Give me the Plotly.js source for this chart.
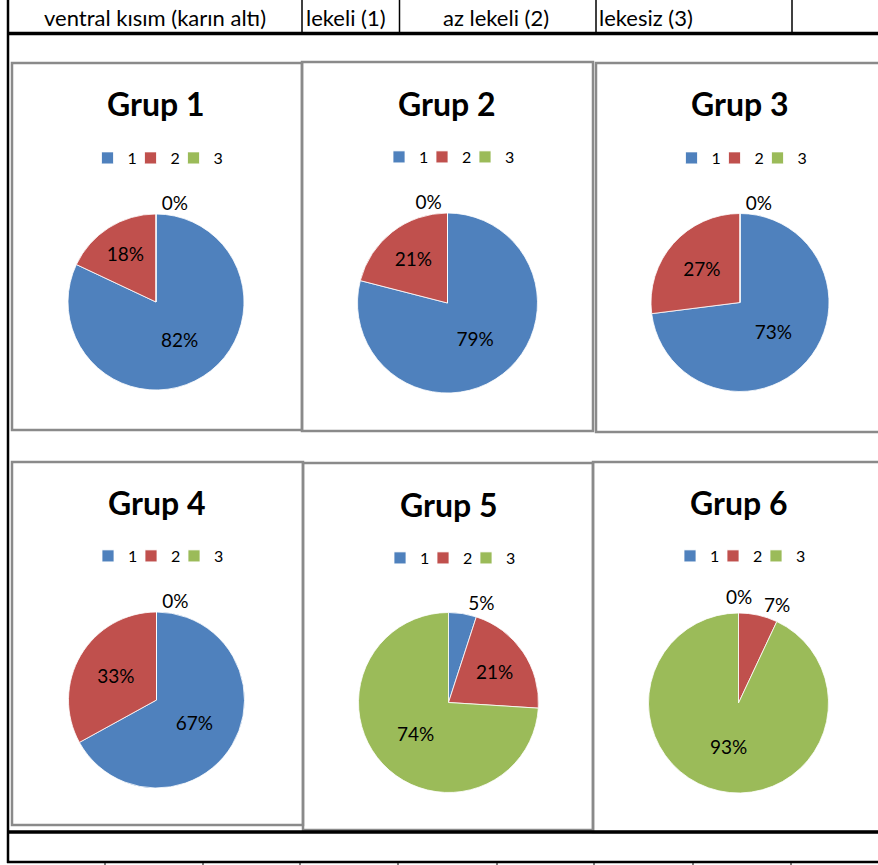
<!DOCTYPE html>
<html>
<head>
<meta charset="utf-8">
<script src="https://cdn.plot.ly/plotly-3.0.1.min.js"></script>
<style>
  html, body { margin: 0; padding: 0; background: #ffffff; }
  #chart { width: 878px; height: 865px; }
</style>
</head>
<body>
<div id="chart"></div>
<script>
// ---- data ----
const categories = ['1', '2', '3'];
const groupNames = ['Grup 1', 'Grup 2', 'Grup 3', 'Grup 4', 'Grup 5', 'Grup 6'];
const grup1 = [82, 18, 0];
const grup2 = [79, 21, 0];
const grup3 = [73, 27, 0];
const grup4 = [67, 33, 0];
const grup5 = [5, 21, 74];
const grup6 = [0, 7, 93];
const headerLabels = ['ventral kısım (karın altı)', 'lekeli (1)', 'az lekeli (2)', 'lekesiz (3)'];

// ---- styling / placement ----
const W = 878, H = 865;
const FONT = 'Lato, Carlito, "Open Sans", sans-serif';
const sliceColors = ['#4F81BD', '#C0504D', '#9BBB59'];
const series = [grup1, grup2, grup3, grup4, grup5, grup6];

// pie centre / radius, title and legend rows, frame of each chart object (px)
const panels = [
  { cx: 156,   cy: 302,   r: 88, titleY: 104, legendY: 158, box: [12, 63, 302, 430] },
  { cx: 447.5, cy: 303,   r: 90, titleY: 103, legendY: 157, box: [302, 62, 593, 431] },
  { cx: 740,   cy: 302.5, r: 89, titleY: 104, legendY: 158, box: [596, 63, 881, 432] },
  { cx: 156.5, cy: 700,   r: 88, titleY: 502, legendY: 556, box: [12, 462, 303, 825] },
  { cx: 448.5, cy: 702.5, r: 90, titleY: 504, legendY: 558, box: [303, 463, 593, 830] },
  { cx: 738.5, cy: 703,   r: 90, titleY: 502, legendY: 556, box: [593, 462, 881, 832] }
];
// where each slice's percentage is written ('none' = written above the pie instead)
const textPlacement = [
  ['inside', 'inside', 'outside'],
  ['inside', 'inside', 'outside'],
  ['inside', 'inside', 'outside'],
  ['inside', 'inside', 'outside'],
  ['outside', 'inside', 'inside'],
  ['none', 'outside', 'inside']
];

const px = x => x / W;
const py = y => 1 - y / H;
const pct = (vals, k) => Math.round(100 * vals[k] / vals.reduce((a, b) => a + b, 0)) + '%';

const traces = series.map((vals, i) => {
  const p = panels[i];
  return {
    type: 'pie',
    name: groupNames[i],
    labels: categories,
    values: vals,
    sort: false,
    direction: 'clockwise',
    rotation: 0,
    domain: { x: [px(p.cx - p.r), px(p.cx + p.r)], y: [py(p.cy + p.r), py(p.cy - p.r)] },
    marker: { colors: sliceColors, line: { color: '#ffffff', width: 0.8 } },
    textinfo: 'percent',
    textposition: textPlacement[i],
    insidetextorientation: 'horizontal',
    textfont: { family: FONT, size: 19, color: '#000000' },
    insidetextfont: { family: FONT, size: 19, color: '#000000' },
    outsidetextfont: { family: FONT, size: 19, color: '#000000' },
    legend: i === 0 ? 'legend' : 'legend' + (i + 1),
    legendgroup: 'g' + (i + 1),
    hoverinfo: 'skip',
    automargin: false
  };
});

const layout = {
  width: W, height: H,
  margin: { l: 0, r: 0, t: 0, b: 0 },
  paper_bgcolor: '#ffffff',
  plot_bgcolor: '#ffffff',
  showlegend: true,
  annotations: [],
  shapes: []
};

// one legend per chart object
panels.forEach((p, i) => {
  const key = i === 0 ? 'legend' : 'legend' + (i + 1);
  layout[key] = {
    x: px(p.cx + 3), xanchor: 'center',
    y: py(p.legendY), yanchor: 'middle',
    orientation: 'h',
    traceorder: 'normal',
    bgcolor: 'rgba(0,0,0,0)',
    borderwidth: 0,
    itemwidth: 30,
    indentation: -7,
    entrywidth: 5,
    entrywidthmode: 'pixels',
    font: { family: FONT, size: 16, color: '#000000' },
    itemclick: false, itemdoubleclick: false
  };
  // chart title
  layout.annotations.push({
    text: '<b>' + groupNames[i] + '</b>',
    x: px(p.cx), y: py(p.titleY), xref: 'paper', yref: 'paper',
    xanchor: 'center', yanchor: 'middle', showarrow: false,
    font: { family: FONT, size: 32, color: '#000000' }
  });
  // slices whose percentage sits on top of the pie
  textPlacement[i].forEach((pos, k) => {
    if (pos !== 'none') return;
    layout.annotations.push({
      text: pct(series[i], k),
      x: px(p.cx), y: py(p.cy - p.r - 3), xref: 'paper', yref: 'paper',
      xanchor: 'center', yanchor: 'bottom', showarrow: false,
      font: { family: FONT, size: 19, color: '#000000' }
    });
  });
  // chart object frame
  const b = p.box;
  layout.shapes.push({
    type: 'rect', xref: 'paper', yref: 'paper',
    x0: px(b[0]), x1: px(b[2]), y0: py(b[3]), y1: py(b[1]),
    line: { color: '#8a8a8a', width: 2.5 }, fillcolor: 'rgba(0,0,0,0)'
  });
});

// header row of the sheet
const headerCells = [
  { x: 155, anchor: 'center' },
  { x: 304, anchor: 'left' },
  { x: 496, anchor: 'center' },
  { x: 597, anchor: 'left' }
];
headerLabels.forEach((t, i) => {
  layout.annotations.push({
    text: t, x: px(headerCells[i].x), y: py(17), xref: 'paper', yref: 'paper',
    xanchor: headerCells[i].anchor, yanchor: 'middle', showarrow: false,
    font: { family: FONT, size: 22, color: '#000000' }
  });
});

// sheet borders
function hline(y, x0, x1, w) {
  layout.shapes.push({ type: 'line', xref: 'paper', yref: 'paper',
    x0: px(x0), x1: px(x1), y0: py(y), y1: py(y), line: { color: '#000000', width: w } });
}
function vline(x, y0, y1, w, c) {
  layout.shapes.push({ type: 'line', xref: 'paper', yref: 'paper',
    x0: px(x), x1: px(x), y0: py(y0), y1: py(y1), line: { color: c || '#000000', width: w } });
}
[302, 399.5, 596, 792].forEach(x => vline(x, 0, 33, 1.5));
hline(33.5, 7, W, 3.5);
hline(832, 7, W, 3.5);
hline(862, 7, W, 2.5);
vline(8, 0, 863, 2.5);
[105, 203, 300, 398, 497, 594, 693, 791].forEach(x => vline(x, 863, 865, 1));

Plotly.newPlot('chart', traces, layout, { displayModeBar: false, staticPlot: true });
</script>
</body>
</html>
